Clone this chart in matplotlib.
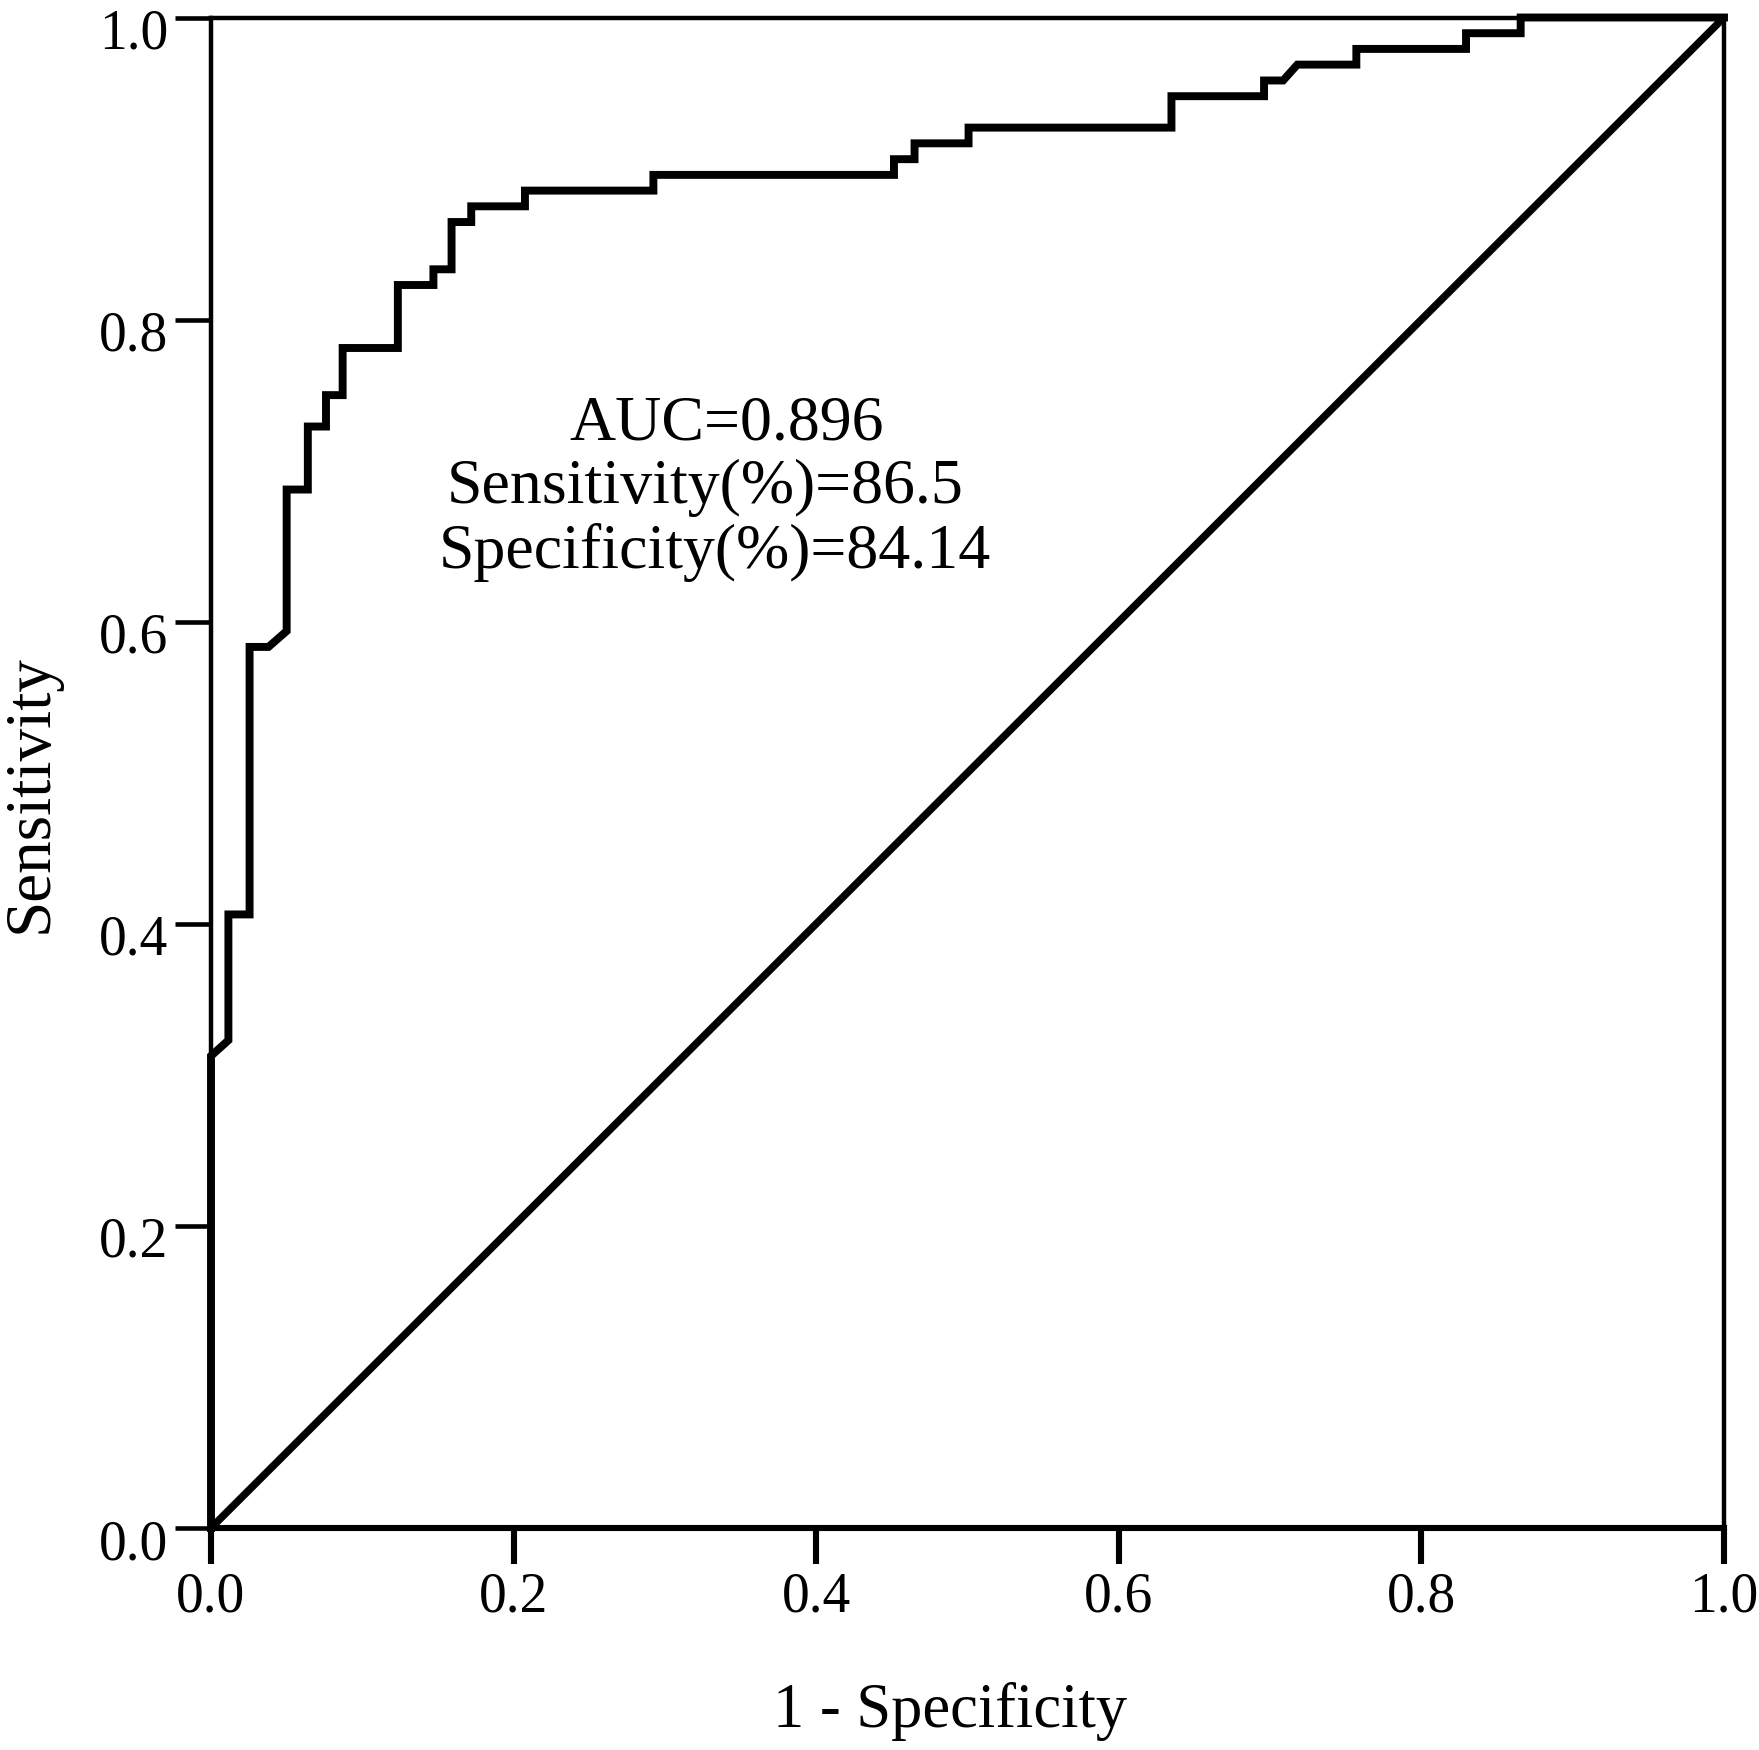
import matplotlib
matplotlib.use("Agg")
import matplotlib.pyplot as plt
import matplotlib.transforms as mtransforms

plt.rcParams['font.family'] = ['Liberation Serif', 'DejaVu Serif']

# ROC curve vertices (1 - specificity, sensitivity)
fpr = [0.0, 0.0, 0.0115, 0.0115, 0.0255, 0.0255, 0.038, 0.050, 0.050,
       0.064, 0.064, 0.076, 0.076, 0.087, 0.087, 0.1235, 0.1235, 0.147,
       0.147, 0.159, 0.159, 0.172, 0.172, 0.2075, 0.2075, 0.2924, 0.2924,
       0.4514, 0.4514, 0.465, 0.465, 0.5007, 0.5007, 0.6348, 0.6348,
       0.696, 0.696, 0.7086, 0.718, 0.757, 0.757, 0.8295, 0.8295,
       0.8656, 0.8656, 1.0]
tpr = [0.0, 0.3125, 0.3229, 0.4062, 0.4062, 0.5833, 0.5833, 0.5938, 0.6875,
       0.6875, 0.7292, 0.7292, 0.75, 0.75, 0.7812, 0.7812, 0.8229, 0.8229,
       0.8333, 0.8333, 0.8646, 0.8646, 0.875, 0.875, 0.8854, 0.8854, 0.8958,
       0.8958, 0.9062, 0.9062, 0.9167, 0.9167, 0.9271, 0.9271, 0.9479,
       0.9479, 0.9583, 0.9583, 0.9688, 0.9688, 0.9792, 0.9792, 0.9896,
       0.9896, 1.0, 1.0]

ref_x = [0.0, 1.0]
ref_y = [0.0, 1.0]

tick_vals = [0.0, 0.2, 0.4, 0.6, 0.8, 1.0]
tick_labels = ['0.0', '0.2', '0.4', '0.6', '0.8', '1.0']

annotations = ['AUC=0.896', 'Sensitivity(%)=86.5', 'Specificity(%)=84.14']
ann_x = [0.3407, 0.3265, 0.3332]
ann_y = [0.7205, 0.6788, 0.6358]

W, H = 1759, 1750
fig = plt.figure(figsize=(W / 100, H / 100), dpi=100)
ax = fig.add_axes([211 / W, (H - 1528) / H, (1724 - 211) / W, (1528 - 17.5) / H])

ax.plot(ref_x, ref_y, color='black', lw=5.4, solid_capstyle='butt', clip_on=False, zorder=3)
ax.plot(fpr, tpr, color='black', lw=5.7, solid_joinstyle='miter', clip_on=False, zorder=4)

ax.set_xlim(0, 1)
ax.set_ylim(0, 1)
ax.set_xticks(tick_vals)
ax.set_xticklabels(tick_labels)
ax.set_yticks(tick_vals)
ax.set_yticklabels(tick_labels)
ax.tick_params(axis='x', direction='out', length=26, width=4.4, labelsize=40, pad=5, colors='black')
ax.tick_params(axis='y', direction='out', length=26, width=3.3, labelsize=40, pad=5, colors='black')

# y tick labels sit slightly below their ticks in the reference
offset = mtransforms.ScaledTranslation(0, -11 / 100, fig.dpi_scale_trans)
for lab in ax.get_yticklabels():
    lab.set_transform(lab.get_transform() + offset)

for side in ['top', 'right', 'left']:
    ax.spines[side].set_linewidth(3.2)
ax.spines['bottom'].set_linewidth(4.4)

for t, x, y in zip(annotations, ann_x, ann_y):
    ax.text(x, y, t, ha='center', va='baseline', fontsize=46, color='black')

fig.text(950 / W, (H - 1727) / H, '1 - Specificity', ha='center', va='baseline', fontsize=45)
fig.text(30.5 / W, (H - 794) / H, 'Sensitivity', rotation=90, ha='center', va='center', fontsize=47)

fig.savefig('out.png', dpi=100, facecolor='white')
